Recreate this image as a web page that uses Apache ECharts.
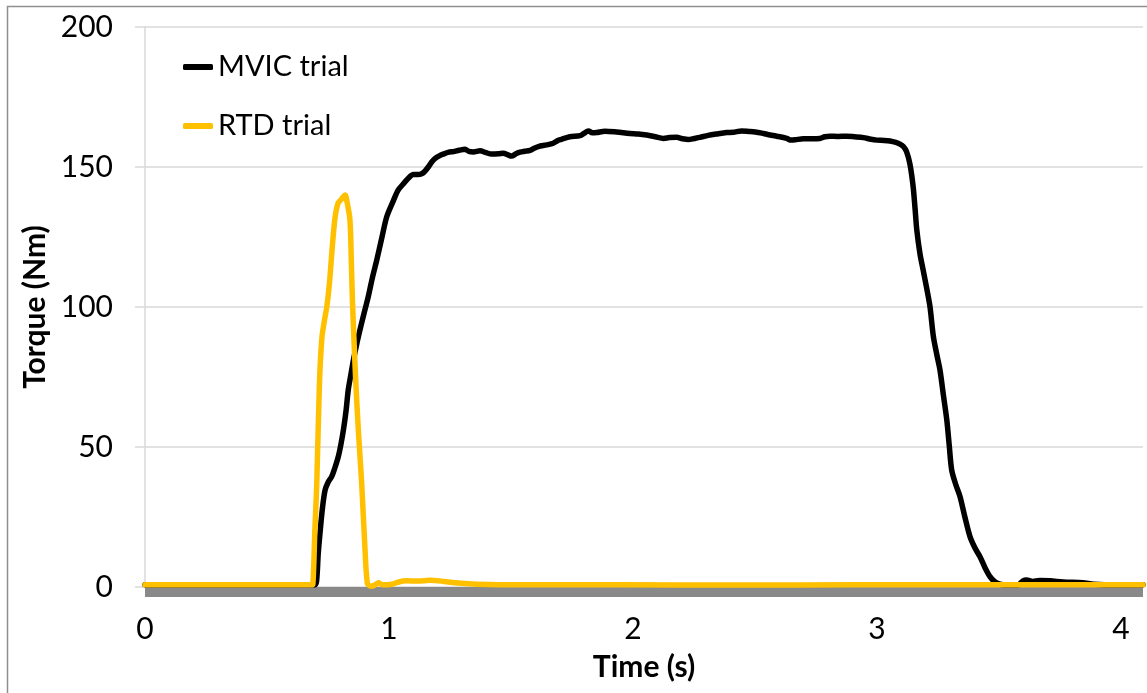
<!DOCTYPE html>
<html>
<head>
<meta charset="utf-8">
<title>Torque traces</title>
<script src="https://cdn.jsdelivr.net/npm/echarts@6/dist/echarts.min.js"></script>
<style>
  html, body { margin: 0; padding: 0; background: #fff; }
  #chart { width: 1147px; height: 693px; }
</style>
</head>
<body>
<div id="chart"></div>
<script>
// Time (s) and torque (Nm) samples for each trial
const mvicTime = [
  0, 0.486, 0.695, 0.703, 0.710, 0.718, 0.727, 0.738, 0.751, 0.765, 0.778, 0.792, 0.803, 0.813, 0.824,
  0.833, 0.844, 0.854, 0.867, 0.881, 0.897, 0.915, 0.932, 0.950, 0.970, 0.991, 1.018, 1.038, 1.059,
  1.079, 1.100, 1.118, 1.134, 1.147, 1.161, 1.175, 1.188, 1.206, 1.222, 1.245, 1.264, 1.288, 1.312,
  1.327, 1.346, 1.373, 1.395, 1.421, 1.449, 1.468, 1.488, 1.502, 1.522, 1.537, 1.556, 1.578, 1.595,
  1.612, 1.646, 1.673, 1.692, 1.707, 1.741, 1.783, 1.799, 1.817, 1.833, 1.851, 1.885, 1.933, 1.987,
  2.022, 2.056, 2.091, 2.125, 2.149, 2.179, 2.202, 2.227, 2.251, 2.274, 2.308, 2.343, 2.384, 2.411,
  2.445, 2.475, 2.500, 2.528, 2.548, 2.589, 2.630, 2.647, 2.664, 2.698, 2.732, 2.766, 2.786, 2.807,
  2.839, 2.876, 2.907, 2.944, 2.975, 2.999, 3.029, 3.053, 3.077, 3.094, 3.108, 3.121, 3.135, 3.148,
  3.156, 3.163, 3.176, 3.189, 3.204, 3.217, 3.231, 3.245, 3.258, 3.272, 3.286, 3.296, 3.306, 3.323,
  3.340, 3.360, 3.381, 3.401, 3.422, 3.442, 3.463, 3.481, 3.497, 3.520, 3.578, 3.598, 3.613, 3.637,
  3.666, 3.709, 3.763, 3.844, 3.889, 3.987, 4.090
];
const mvicTorque = [
  0.8, 0.8, 0.8, 2, 12, 20, 28, 34.6, 37.5, 39.4, 42.5, 46.5, 51, 56, 63,
  70.4, 76, 81, 86.5, 91.8, 97.5, 103.7, 110.5, 116.8, 124.5, 132.3, 138, 141.8, 144,
  146, 147.3, 147.3, 147.6, 148.5, 150, 151.8, 153, 154, 154.6, 155.3, 155.5, 156, 156.3,
  155.6, 155.4, 155.8, 155.2, 154.6, 154.7, 154.9, 154.3, 153.9, 154.8, 155.3, 155.6, 155.9, 156.7,
  157.3, 157.9, 158.5, 159.5, 159.9, 160.8, 161.2, 162, 162.9, 162.2, 162.3, 162.8, 162.5, 162,
  161.8, 161.4, 160.8, 160.2, 160.5, 160.6, 160.1, 159.8, 160.2, 160.6, 161.3, 161.8, 162.3, 162.4,
  162.9, 162.7, 162.5, 162.1, 161.7, 161, 160.2, 159.6, 159.7, 160.1, 160.1, 160.2, 160.8, 161,
  160.9, 161, 160.8, 160.5, 159.9, 159.6, 159.5, 159.3, 158.8, 158.2, 157.3, 155.5, 151, 143,
  135, 127.5, 119, 113.2, 106.5, 100.1, 89.4, 83, 77.5, 68.5, 59.6, 50.5, 41.8, 36.5,
  32.3, 25, 18, 14, 10.8, 7, 3.7, 2, 1.2, 0.8, 0.8, 2.2, 2.5, 2.0,
  2.3, 2.2, 1.8, 1.5, 1.0, 0.8, 0.8
];

const rtdTime = [
  0, 0.486, 0.681, 0.688, 0.696, 0.704, 0.715, 0.725, 0.735, 0.745, 0.756, 0.768, 0.779, 0.791,
  0.805, 0.820, 0.828, 0.840, 0.846, 0.851, 0.864, 0.875, 0.888, 0.899, 0.911, 0.924, 0.938,
  0.958, 0.972, 1.011, 1.040, 1.070, 1.118, 1.167, 1.225, 1.283, 1.361, 1.556, 1.945, 2.431,
  2.917, 3.403, 3.889, 4.090
];
const rtdTorque = [
  0.8, 0.8, 0.8, 1, 20, 37, 73, 89, 95, 100, 108.6, 122, 132, 137,
  138.5, 140, 137.5, 131, 115, 100, 73, 55, 37, 18, 1.4, 0.3, 0.5,
  1.5, 0.8, 1.0, 1.8, 2.2, 2.1, 2.4, 2.0, 1.4, 1.0, 0.8, 0.8, 0.7,
  0.8, 0.8, 0.8, 0.8
];

const yTicks = { min: 0, max: 200, step: 50 };
const xTicks = { min: 0, max: 4.09, step: 1 };

const seriesNames = ['MVIC trial', 'RTD trial'];
const seriesColors = ['#000000', '#FFC000'];

function pairs(xs, ys) {
  return xs.map((x, i) => [x, ys[i]]);
}

const FONT = 'Lato, "Open Sans", sans-serif';
const chart = echarts.init(document.getElementById('chart'), null, { renderer: 'canvas' });

chart.setOption({
  animation: false,
  backgroundColor: '#ffffff',
  graphic: [{
    type: 'rect',
    shape: { x: 7.5, y: 6.5, width: 1160, height: 720 },
    style: { fill: 'none', stroke: '#8f8f8f', lineWidth: 1.5 },
    silent: true,
    z: -1
  }],
  grid: { left: 145, right: 4, top: 27, bottom: 106, containLabel: false },
  legend: {
    orient: 'vertical',
    left: 178,
    top: 47,
    itemWidth: 30,
    itemHeight: 6,
    itemGap: 29,
    icon: 'roundRect',
    data: seriesNames,
    textStyle: { fontFamily: FONT, fontSize: 29, color: '#000', lineHeight: 30 }
  },
  xAxis: {
    type: 'value',
    min: xTicks.min,
    max: xTicks.max,
    interval: xTicks.step,
    offset: 5,
    name: 'Time (s)',
    nameLocation: 'middle',
    nameGap: 60,
    nameTextStyle: { fontFamily: FONT, fontSize: 30, fontWeight: 'bold', color: '#000' },
    // thick grey base bar sitting just under the zero line
    axisLine: { show: true, onZero: false, lineStyle: { color: '#898989', width: 10, cap: 'butt' } },
    axisTick: { show: false },
    splitLine: { show: false },
    axisLabel: {
      fontFamily: FONT, fontSize: 30, color: '#000', margin: 22,
      formatter: v => (Math.abs(v - Math.round(v)) < 1e-9 ? String(Math.round(v)) : '')
    }
  },
  yAxis: {
    type: 'value',
    min: yTicks.min,
    max: yTicks.max,
    interval: yTicks.step,
    name: 'Torque (Nm)',
    nameLocation: 'middle',
    nameGap: 88,
    nameTextStyle: { fontFamily: FONT, fontSize: 30, fontWeight: 'bold', color: '#000' },
    axisLine: { show: true, lineStyle: { color: '#d9d9d9', width: 1.5 } },
    axisTick: { show: true, length: 10, lineStyle: { color: '#d9d9d9', width: 1.5 } },
    splitLine: { show: true, lineStyle: { color: '#d9d9d9', width: 1.5 } },
    axisLabel: { fontFamily: FONT, fontSize: 30, color: '#000', margin: 32 }
  },
  series: [
    {
      name: seriesNames[0],
      type: 'line',
      data: pairs(mvicTime, mvicTorque),
      showSymbol: false,
      symbol: 'none',
      smooth: 0.3,
      lineStyle: { color: seriesColors[0], width: 5.5, cap: 'round', join: 'round' },
      itemStyle: { color: seriesColors[0] }
    },
    {
      name: seriesNames[1],
      type: 'line',
      data: pairs(rtdTime, rtdTorque),
      showSymbol: false,
      symbol: 'none',
      smooth: 0.3,
      lineStyle: { color: seriesColors[1], width: 5.5, cap: 'round', join: 'round' },
      itemStyle: { color: seriesColors[1] }
    }
  ]
});
</script>
</body>
</html>
